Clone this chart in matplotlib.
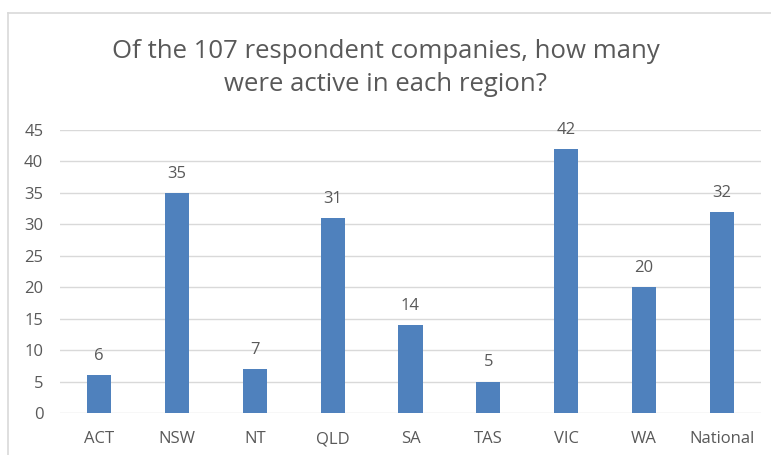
import matplotlib.pyplot as plt
from matplotlib.lines import Line2D

plt.rcParams['font.family'] = ['Open Sans', 'DejaVu Sans']

regions = ['ACT', 'NSW', 'NT', 'QLD', 'SA', 'TAS', 'VIC', 'WA', 'National']
companies = [6, 35, 7, 31, 14, 5, 42, 20, 32]
y_ticks = [0, 5, 10, 15, 20, 25, 30, 35, 40, 45]

text_grey = '#595959'
bar_blue = '#4F81BD'

fig = plt.figure(figsize=(7.71, 4.55), dpi=100)
ax = fig.add_axes([60 / 771, 1 - 413 / 455, 701 / 771, 283 / 455])

bars = ax.bar(range(len(regions)), companies, width=0.31, color=bar_blue, zorder=3)
for b, v in zip(bars, companies):
    ax.annotate(str(v), (b.get_x() + b.get_width() / 2, v), xytext=(0, 8),
                textcoords='offset points', ha='center', va='bottom',
                fontsize=12, color=text_grey)

ax.set_xlim(-0.5, len(regions) - 0.5)
ax.set_ylim(0, 45)
ax.set_yticks(y_ticks)
ax.set_xticks(range(len(regions)))
ax.set_xticklabels(regions)
ax.tick_params(axis='both', length=0, labelsize=12, colors=text_grey)
ax.tick_params(axis='x', pad=13)
ax.tick_params(axis='y', pad=12)
ax.grid(axis='y', color='#D9D9D9', linewidth=1, zorder=0)
for s in ax.spines.values():
    s.set_visible(False)

fig.text(0.5, 1 - 68 / 455,
         'Of the 107 respondent companies, how many\nwere active in each region?',
         ha='center', va='center', fontsize=18.5, color=text_grey, linespacing=1.38)

# chart border (cut off at the right and bottom)
fig.add_artist(Line2D([8 / 771, 1.0], [1 - 13 / 455] * 2, color='#D9D9D9', lw=1.2))
fig.add_artist(Line2D([8 / 771] * 2, [0, 1 - 13 / 455], color='#D9D9D9', lw=1.2))

fig.savefig('out.png', dpi=100)
